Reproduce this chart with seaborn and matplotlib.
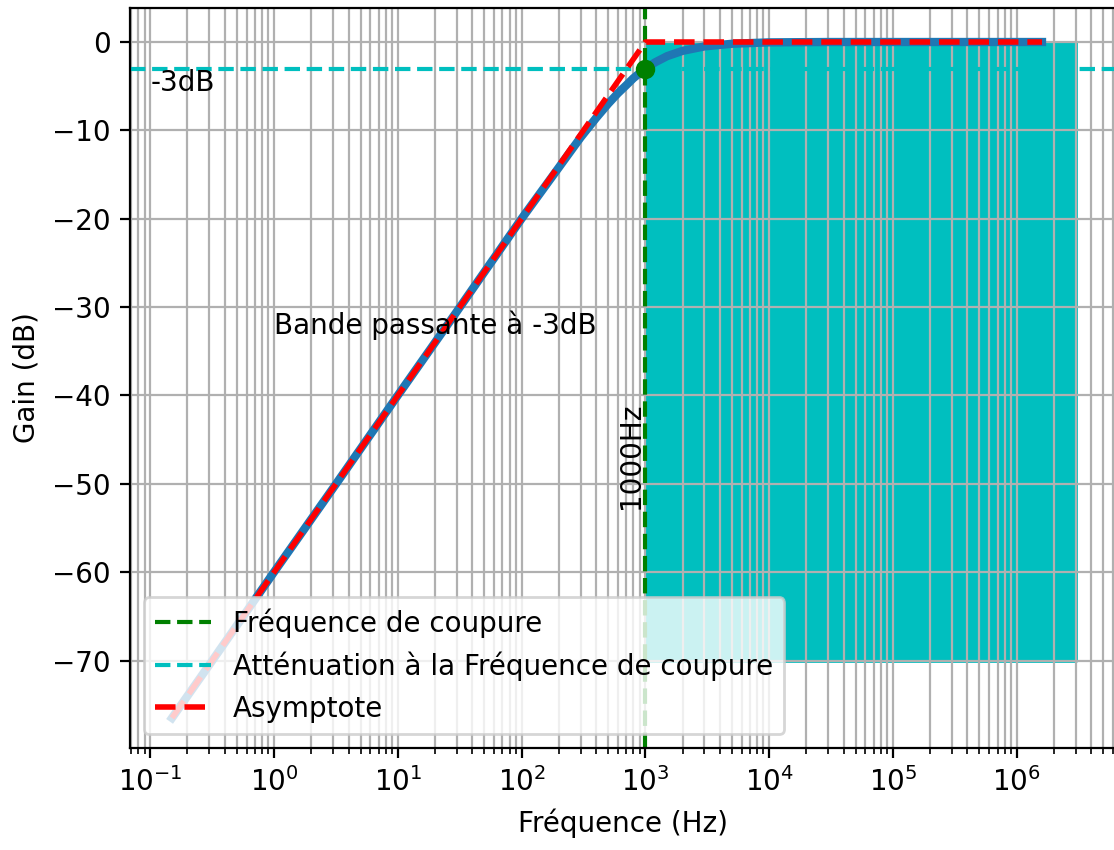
import matplotlib
matplotlib.use("Agg")
import matplotlib.pyplot as plt
import seaborn as sns
import pandas as pd

# Frequency response of a first-order high-pass filter (fc = 1000 Hz)
freq_hz = [0.15, 0.3, 1, 3, 10, 30, 100, 200, 300, 400, 500, 600, 700, 800,
           1000, 1200, 1500, 2000, 3000, 5000, 10000, 30000, 100000, 1600000]
gain_db = [-76.5, -70.5, -60.0, -50.5, -40.0, -30.5, -20.0, -14.2, -10.8, -8.6,
           -7.0, -5.8, -4.9, -4.1, -3.0, -2.3, -1.6, -1.0, -0.5, -0.2,
           -0.04, 0.0, 0.0, 0.0]

# Asymptotic (Bode) approximation
asym_freq = [0.15, 1000, 1600000]
asym_gain = [-76.5, 0.0, 0.0]

cutoff_hz = 1000
cutoff_gain = -3
band_freq = [1000, 3000000]
band_low, band_high = -70, 0

df = pd.DataFrame({"f": freq_hz, "g": gain_db})

dpi = 200
fig = plt.figure(figsize=(1114 / dpi, 850 / dpi), dpi=dpi)
ax = fig.add_axes([0.1167, 0.12, 0.8851, 0.8706])
ax.set_xscale("log")

ax.fill_between(band_freq, band_low, band_high, color="c")
sns.lineplot(data=df, x="f", y="g", ax=ax, linewidth=3, color="C0")
ax.axvline(cutoff_hz, color="g", linestyle="--", label="Fréquence de coupure")
ax.axhline(cutoff_gain, color="c", linestyle="--",
           label="Atténuation à la Fréquence de coupure")
ax.plot(asym_freq, asym_gain, "r--", linewidth=2, label="Asymptote")
ax.plot(cutoff_hz, cutoff_gain, "go")

ax.text(0.1, -3, "-3dB", va="top")
ax.text(1, -33, "Bande passante à -3dB")
ax.text(cutoff_hz, -46.8, "1000Hz", rotation=90, ha="right", va="center")

ax.set_xlim(0.0687, 6.34e6)
ax.set_ylim(-79.9, 3.85)
ax.grid(which="both")
ax.set_xlabel("Fréquence (Hz)")
ax.set_ylabel("Gain (dB)")
ax.legend(loc="lower left")

fig.savefig("out.png", dpi=dpi)
